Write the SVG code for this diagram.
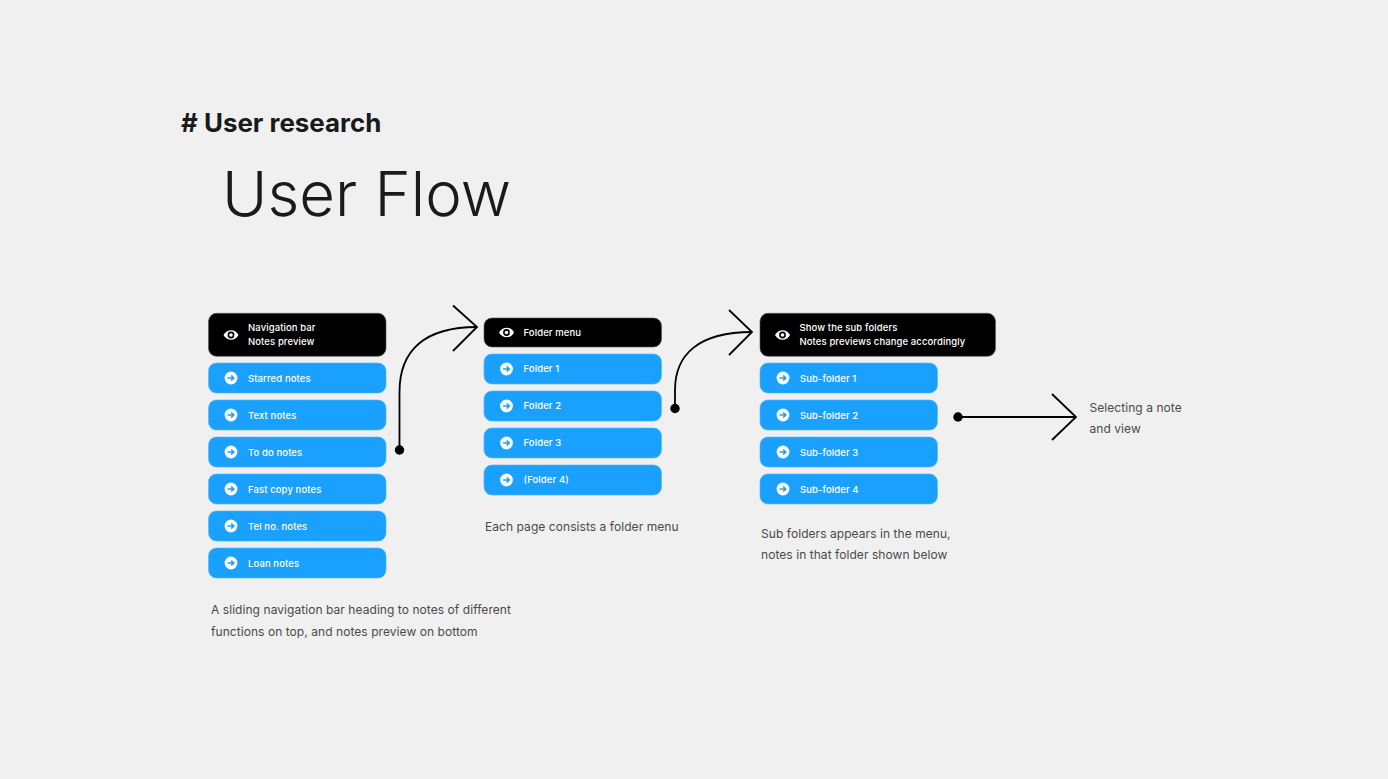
<svg xmlns="http://www.w3.org/2000/svg" width="1388" height="779" viewBox="0 0 1388 779">
<style>
text{font-family:Inter,"Liberation Sans",sans-serif}
.h{font-size:25.900px;font-weight:700;fill:#1a1a1a}
.t{font-size:61.700px;font-weight:275;fill:#1a1a1a}
.l{font-size:9.500px;font-weight:500;fill:#fff;letter-spacing:.1px}
.c{font-size:12px;font-weight:400;fill:#4a4a4a;letter-spacing:.06px}
.b{fill:#1aa0ff;stroke:#4db5ff;stroke-width:.6}
.k{fill:#000;stroke:#555;stroke-width:.6}
.w{fill:none;stroke:#000;stroke-width:1.8}
.d{fill:#000}
</style>
<defs>
<g id="arrow"><circle cx="7" cy="0" r="6.400" fill="#fff"/><path d="M3.600 0H9.400M7.200 -2.500L9.700 0L7.200 2.500" fill="none" stroke="#1aa0ff" stroke-width="1.700"/></g>
<g id="eye"><path d="M0 0C3 -6 12 -6.600 15 0C12 6.600 3 6 0 0Z" fill="#fff"/><circle cx="7.500" cy="0" r="3.400" fill="#000"/><circle cx="7.500" cy="0" r="1.800" fill="#fff"/></g>
</defs>
<rect width="1388" height="779" fill="#f0f0f0"/>
<text class="h" x="181" y="132">#  User research</text>
<text class="t" x="222" y="216">User Flow</text>

<g id="connectors">
<path class="w" d="M399.500 450V392C399.500 350 425 327 477 327"/>
<path class="w" d="M453 305.500L477 327L453 351"/>
<circle class="d" cx="399.500" cy="450" r="4.700"/>
<path class="w" d="M675 408V390C675 355 698 332 752 332"/>
<path class="w" d="M729 310L752 332L729 355"/>
<circle class="d" cx="675" cy="408.500" r="4.700"/>
<path class="w" d="M958 417H1076"/>
<path class="w" d="M1052 394L1076 417L1052 440"/>
<circle class="d" cx="958" cy="417" r="4.700"/>
</g>

<g id="nav-head"><rect class="k" x="208.500" y="313.300" width="177.500" height="43" rx="8"/><use href="#eye" x="223.500" y="335"/><text class="l" x="248" y="331">Navigation bar</text><text class="l" x="248" y="345">Notes preview</text></g>
<g id="nav-1"><rect class="b" x="208.500" y="363" width="177.500" height="30" rx="8"/><use href="#arrow" x="224" y="378"/><text class="l" x="248" y="381.500">Starred notes</text></g>
<g id="nav-2"><rect class="b" x="208.500" y="400" width="177.500" height="30" rx="8"/><use href="#arrow" x="224" y="415"/><text class="l" x="248" y="418.500">Text notes</text></g>
<g id="nav-3"><rect class="b" x="208.500" y="437" width="177.500" height="30" rx="8"/><use href="#arrow" x="224" y="452"/><text class="l" x="248" y="455.500">To do notes</text></g>
<g id="nav-4"><rect class="b" x="208.500" y="474" width="177.500" height="30" rx="8"/><use href="#arrow" x="224" y="489"/><text class="l" x="248" y="492.500">Fast copy notes</text></g>
<g id="nav-5"><rect class="b" x="208.500" y="511" width="177.500" height="30" rx="8"/><use href="#arrow" x="224" y="526"/><text class="l" x="248" y="529.500">Tel no. notes</text></g>
<g id="nav-6"><rect class="b" x="208.500" y="548" width="177.500" height="30" rx="8"/><use href="#arrow" x="224" y="563"/><text class="l" x="248" y="566.500">Loan notes</text></g>
<text class="c" x="211" y="614">A sliding navigation bar heading to notes of different</text>
<text class="c" x="211" y="636">functions on top, and notes preview on bottom</text>

<g id="folder-head"><rect class="k" x="484" y="318" width="177.500" height="29" rx="8"/><use href="#eye" x="499" y="332.500"/><text class="l" x="523.500" y="336">Folder menu</text></g>
<g id="folder-1"><rect class="b" x="484" y="354" width="177.500" height="30" rx="8"/><use href="#arrow" x="499.500" y="369"/><text class="l" x="523.500" y="372">Folder 1</text></g>
<g id="folder-2"><rect class="b" x="484" y="391" width="177.500" height="30" rx="8"/><use href="#arrow" x="499.500" y="406"/><text class="l" x="523.500" y="409">Folder 2</text></g>
<g id="folder-3"><rect class="b" x="484" y="428" width="177.500" height="30" rx="8"/><use href="#arrow" x="499.500" y="443"/><text class="l" x="523.500" y="446">Folder 3</text></g>
<g id="folder-4"><rect class="b" x="484" y="465" width="177.500" height="30" rx="8"/><use href="#arrow" x="499.500" y="480"/><text class="l" x="523.500" y="483">(Folder 4)</text></g>
<text class="c" x="485" y="531">Each page consists a folder menu</text>

<g id="sub-head"><rect class="k" x="760" y="313.300" width="235.500" height="43" rx="8"/><use href="#eye" x="775" y="335"/><text class="l" x="799.500" y="331">Show the sub folders</text><text class="l" x="799.500" y="345">Notes previews change accordingly</text></g>
<g id="sub-1"><rect class="b" x="760" y="363" width="177.500" height="30" rx="8"/><use href="#arrow" x="776" y="378"/><text class="l" x="800" y="381.500">Sub-folder 1</text></g>
<g id="sub-2"><rect class="b" x="760" y="400" width="177.500" height="30" rx="8"/><use href="#arrow" x="776" y="415"/><text class="l" x="800" y="418.500">Sub-folder 2</text></g>
<g id="sub-3"><rect class="b" x="760" y="437" width="177.500" height="30" rx="8"/><use href="#arrow" x="776" y="452"/><text class="l" x="800" y="455.500">Sub-folder 3</text></g>
<g id="sub-4"><rect class="b" x="760" y="474" width="177.500" height="30" rx="8"/><use href="#arrow" x="776" y="489"/><text class="l" x="800" y="492.500">Sub-folder 4</text></g>
<text class="c" x="761" y="538">Sub folders appears in the menu,</text>
<text class="c" x="761" y="559">notes in that folder shown below</text>

<text class="c" x="1089.500" y="412">Selecting a note</text>
<text class="c" x="1089.500" y="433">and view</text>
</svg>
